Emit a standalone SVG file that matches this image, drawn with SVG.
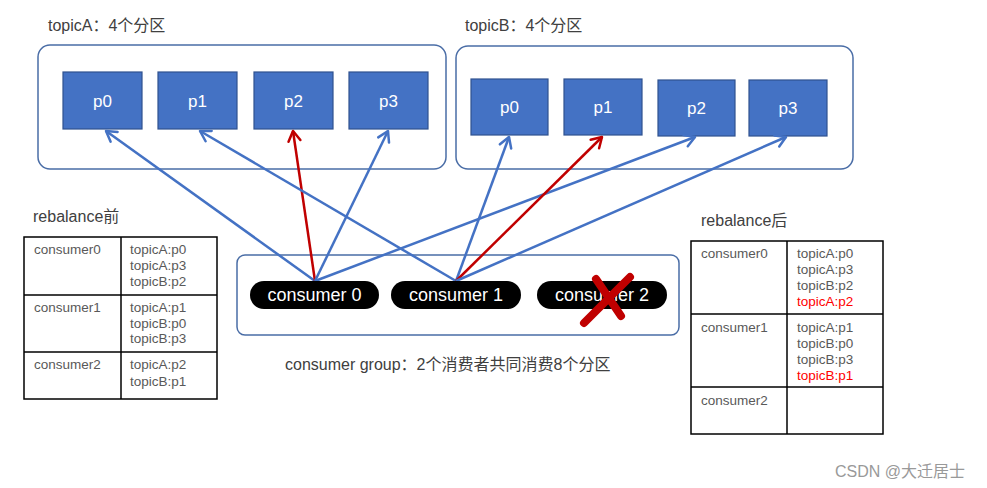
<svg xmlns="http://www.w3.org/2000/svg" width="987" height="488" viewBox="0 0 987 488">
<style>
text{font-family:"Liberation Sans","Noto Sans CJK SC",sans-serif;}
.title{font-size:16px;fill:#404040;}
.frame{fill:#fff;stroke:#4a6da6;stroke-width:1.5;}
.part{fill:#4472C4;stroke:#2F528F;stroke-width:1.2;}
.ptxt{font-size:17px;fill:#fff;text-anchor:middle;}
.pill{fill:#000;}
.ctxt{font-size:18px;fill:#fff;text-anchor:middle;}
.tbl{fill:none;stroke:#000;stroke-width:1.5;}
.cell{font-size:13.5px;fill:#595959;}
.red{fill:#ff0000;}
.bl{stroke:#4472C4;stroke-width:2.5;fill:none;marker-end:url(#ab);}
.rd{stroke:#C00000;stroke-width:2.5;fill:none;marker-end:url(#ar);}
</style>
<defs>
<marker id="ab" viewBox="-12 -8 14 16" markerWidth="14" markerHeight="16" refX="0" refY="0" orient="auto" markerUnits="userSpaceOnUse"><path d="M-10,-6 L0,0 L-10,6" fill="none" stroke="#4472C4" stroke-width="2.5" stroke-linecap="round" stroke-linejoin="round"/></marker>
<marker id="ar" viewBox="-12 -8 14 16" markerWidth="14" markerHeight="16" refX="0" refY="0" orient="auto" markerUnits="userSpaceOnUse"><path d="M-10,-6 L0,0 L-10,6" fill="none" stroke="#C00000" stroke-width="2.5" stroke-linecap="round" stroke-linejoin="round"/></marker>
</defs>
<rect width="987" height="488" fill="#fff"/>

<g id="topicA">
<text class="title" x="48" y="31">topicA：4个分区</text>
<rect class="frame" x="38" y="45" width="408" height="124" rx="12"/>
</g>
<g id="topicB">
<text class="title" x="465" y="31">topicB：4个分区</text>
<rect class="frame" x="456" y="46" width="397" height="123" rx="12"/>
</g>

<g id="A-p0"><rect class="part" x="63" y="72" width="79" height="57"/><text class="ptxt" x="102.5" y="107">p0</text></g>
<g id="A-p1"><rect class="part" x="158" y="72" width="79" height="57"/><text class="ptxt" x="197.5" y="107">p1</text></g>
<g id="A-p2"><rect class="part" x="254" y="72" width="79" height="57"/><text class="ptxt" x="293.5" y="107">p2</text></g>
<g id="A-p3"><rect class="part" x="349" y="72" width="79" height="57"/><text class="ptxt" x="388.5" y="107">p3</text></g>

<g id="B-p0"><rect class="part" x="471" y="79" width="77" height="56"/><text class="ptxt" x="509.5" y="113">p0</text></g>
<g id="B-p1"><rect class="part" x="564" y="79" width="78" height="56"/><text class="ptxt" x="603" y="113">p1</text></g>
<g id="B-p2"><rect class="part" x="658" y="80" width="77" height="56"/><text class="ptxt" x="696.5" y="114">p2</text></g>
<g id="B-p3"><rect class="part" x="749" y="80" width="78" height="56"/><text class="ptxt" x="788" y="114">p3</text></g>

<g id="group">
<rect class="frame" x="237" y="255" width="442" height="80" rx="8"/>
<text class="title" x="285" y="370">consumer group：2个消费者共同消费8个分区</text>
</g>

<g id="connectors">
<line class="bl" x1="315" y1="281" x2="106" y2="131"/>
<line class="rd" x1="315" y1="281" x2="293" y2="131"/>
<line class="bl" x1="315" y1="281" x2="388" y2="131"/>
<line class="bl" x1="315" y1="281" x2="695" y2="137"/>
<line class="bl" x1="456" y1="281" x2="200" y2="131"/>
<line class="bl" x1="456" y1="281" x2="509" y2="137"/>
<line class="rd" x1="456" y1="281" x2="602" y2="137"/>
<line class="bl" x1="456" y1="281" x2="786" y2="137"/>
</g>

<g id="consumer0"><rect class="pill" x="250" y="281" width="129" height="28" rx="14"/><text class="ctxt" x="314.5" y="301">consumer 0</text></g>
<g id="consumer1"><rect class="pill" x="391" y="281" width="130" height="28" rx="14"/><text class="ctxt" x="456" y="301">consumer 1</text></g>
<g id="consumer2"><rect class="pill" x="537" y="281" width="130" height="28" rx="14"/><text class="ctxt" x="602" y="301">consumer 2</text>
<path d="M630,277 L584,323 M596,279 L621,316" stroke="#C00000" stroke-width="8" stroke-linecap="round" fill="none"/>
</g>

<g id="table-before">
<text class="title" x="33" y="222">rebalance前</text>
<rect class="tbl" x="24" y="237" width="193" height="162"/>
<line class="tbl" x1="121" y1="237" x2="121" y2="399"/>
<line class="tbl" x1="24" y1="295" x2="217" y2="295"/>
<line class="tbl" x1="24" y1="352" x2="217" y2="352"/>
<text class="cell" x="34" y="254">consumer0</text>
<text class="cell" x="130" y="254">topicA:p0</text>
<text class="cell" x="130" y="270">topicA:p3</text>
<text class="cell" x="130" y="286">topicB:p2</text>
<text class="cell" x="34" y="312">consumer1</text>
<text class="cell" x="130" y="312">topicA:p1</text>
<text class="cell" x="130" y="328">topicB:p0</text>
<text class="cell" x="130" y="343">topicB:p3</text>
<text class="cell" x="34" y="369">consumer2</text>
<text class="cell" x="130" y="369">topicA:p2</text>
<text class="cell" x="130" y="386">topicB:p1</text>
</g>

<g id="table-after">
<text class="title" x="701" y="226">rebalance后</text>
<rect class="tbl" x="691" y="241" width="192" height="193"/>
<line class="tbl" x1="787" y1="241" x2="787" y2="434"/>
<line class="tbl" x1="691" y1="314" x2="883" y2="314"/>
<line class="tbl" x1="691" y1="387" x2="883" y2="387"/>
<text class="cell" x="701" y="258">consumer0</text>
<text class="cell" x="797" y="258">topicA:p0</text>
<text class="cell" x="797" y="274">topicA:p3</text>
<text class="cell" x="797" y="290">topicB:p2</text>
<text class="cell red" x="797" y="306">topicA:p2</text>
<text class="cell" x="701" y="332">consumer1</text>
<text class="cell" x="797" y="332">topicA:p1</text>
<text class="cell" x="797" y="348">topicB:p0</text>
<text class="cell" x="797" y="364">topicB:p3</text>
<text class="cell red" x="797" y="380">topicB:p1</text>
<text class="cell" x="701" y="405">consumer2</text>
</g>

<text x="835" y="477" style="font-size:16px;fill:#999;">CSDN @大迁居士</text>
</svg>
